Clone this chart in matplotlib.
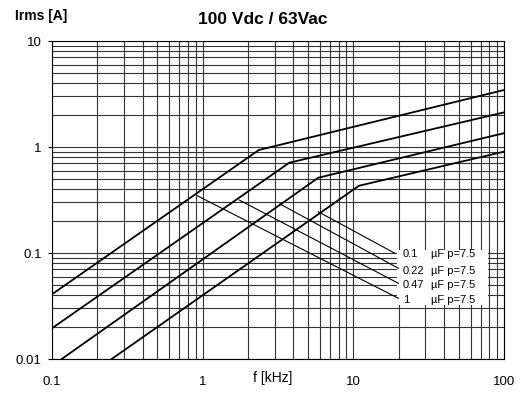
import matplotlib
matplotlib.use("Agg")
import matplotlib.pyplot as plt
from matplotlib.ticker import LogLocator, FixedLocator, NullFormatter
from matplotlib.patches import Rectangle

plt.rcParams['font.family'] = ['Liberation Sans', 'DejaVu Sans']

# curve vertices: f [kHz], Irms [A]
cap_labels = ['0.1', '0.22', '0.47', '1']
f_c1 = [0.1, 2.36, 100]
i_c1 = [0.0408, 0.937, 3.45]
f_c2 = [0.1, 3.76, 100]
i_c2 = [0.0195, 0.711, 2.12]
f_c3 = [0.116, 5.85, 100]
i_c3 = [0.01, 0.513, 1.35]
f_c4 = [0.249, 10.9, 100]
i_c4 = [0.01, 0.431, 0.904]

# leader lines from curves to the labels (label order: 0.1 ... 1)
lead_f0 = [5.85, 3.26, 1.75, 0.92]
lead_i0 = [0.245, 0.29, 0.316, 0.347]
lead_f1 = [18.9, 19.9, 19.9, 19.9]
lead_i1 = [0.0993, 0.0718, 0.0518, 0.0374]
label_i = [0.0969, 0.0679, 0.0501, 0.0364]

fig = plt.figure(figsize=(5.2, 3.93), dpi=100)
ax = fig.add_axes([52 / 520, 34 / 393, 452 / 520, 318 / 393])
ax.set_xscale('log')
ax.set_yscale('log')
ax.set_xlim(0.1, 100)
ax.set_ylim(0.01, 10)

ax.xaxis.set_major_locator(FixedLocator([0.1, 1, 10, 100]))
ax.yaxis.set_major_locator(FixedLocator([0.01, 0.1, 1, 10]))
ax.set_xticklabels(['0.1', '1', '10', '100'])
ax.set_yticklabels(['0.01', '0.1', '1', '10'])
ax.xaxis.set_minor_locator(LogLocator(base=10, subs=range(2, 10)))
ax.yaxis.set_minor_locator(LogLocator(base=10, subs=range(2, 10)))
ax.xaxis.set_minor_formatter(NullFormatter())
ax.yaxis.set_minor_formatter(NullFormatter())
ax.tick_params(axis='x', which='major', length=0, pad=12.5, labelsize=9.5)
ax.tick_params(axis='y', which='major', length=3, pad=4.5, labelsize=9.5, width=0.8)
ax.tick_params(which='minor', length=0)

ax.grid(which='both', color='0.2', linewidth=0.8)
ax.set_axisbelow(True)
for s in ax.spines.values():
    s.set_linewidth(0.8)

for f, i in [(f_c1, i_c1), (f_c2, i_c2), (f_c3, i_c3), (f_c4, i_c4)]:
    ax.plot(f, i, color='black', linewidth=1.3, zorder=3)

for k in range(4):
    ax.plot([lead_f0[k], lead_f1[k]], [lead_i0[k], lead_i1[k]],
            color='black', linewidth=0.8, zorder=3)

ax.add_patch(Rectangle((19.4, 0.0324), 78.5 - 19.4, 0.107 - 0.0324,
                       facecolor='white', edgecolor='none', zorder=2.5))
for k in range(4):
    ax.text(21.4, label_i[k], cap_labels[k], fontsize=8, va='center', zorder=4)
    ax.text(32.6, label_i[k], 'µF p=7.5', fontsize=8, va='center', zorder=4)

fig.text(263 / 520, 1 - 20 / 393, '100 Vdc / 63Vac', ha='center', va='center',
         fontsize=12.5, fontweight='bold')
fig.text(15 / 520, 1 - 16 / 393, 'Irms [A]', ha='left', va='center',
         fontsize=10, fontweight='bold')
fig.text(272.7 / 520, 1 - 378 / 393, 'f [kHz]', ha='center', va='center',
         fontsize=10)

fig.savefig('out.png', dpi=100)
